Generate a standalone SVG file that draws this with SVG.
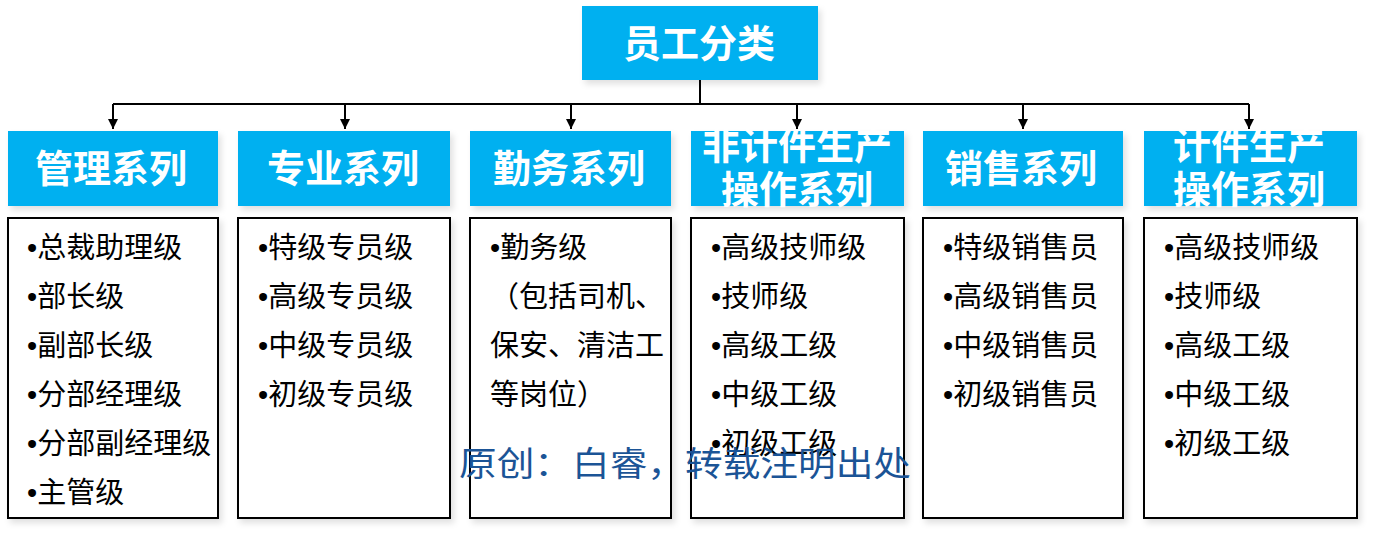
<svg xmlns="http://www.w3.org/2000/svg" width="1373" height="545" viewBox="0 0 1373 545">
<defs>
<filter id="sh" x="-10%" y="-10%" width="130%" height="130%"><feDropShadow dx="3" dy="4" stdDeviation="3" flood-color="#000" flood-opacity="0.12"/></filter>
<marker id="ar" viewBox="0 0 10 10" refX="10" refY="5" markerWidth="10" markerHeight="10" markerUnits="userSpaceOnUse" orient="auto"><path d="M0,0 L10,5 L0,10 z" fill="#000"/></marker>
</defs>
<style>
.hd{fill:#00B0F0;filter:url(#sh)}
.bx{fill:#fff;stroke:#000;stroke-width:2;filter:url(#sh)}
.ht{font-family:"Noto Sans CJK SC","Noto Sans",sans-serif;font-weight:bold;font-size:38px;fill:#fff;text-anchor:middle}
.ct{font-family:"Noto Sans CJK SC","Noto Sans",sans-serif;font-size:29px;fill:#000}
.bu{font-family:"Liberation Sans",sans-serif}
.cn{stroke:#000;stroke-width:2;fill:none}
.wm{font-family:"Noto Sans CJK SC",sans-serif;font-size:34px;fill:#1B5496}
</style>
<g id="root"><rect class="hd" x="582" y="6" width="236" height="74"/><text class="ht" x="699" y="57">员工分类</text></g>
<g id="connectors">
<path class="cn" d="M700,80 V104 M113,104 H1249"/>
<path class="cn" d="M113,104 V129" marker-end="url(#ar)"/>
<path class="cn" d="M345,104 V129" marker-end="url(#ar)"/>
<path class="cn" d="M571,104 V129" marker-end="url(#ar)"/>
<path class="cn" d="M797,104 V129" marker-end="url(#ar)"/>
<path class="cn" d="M1023,104 V129" marker-end="url(#ar)"/>
<path class="cn" d="M1249,104 V129" marker-end="url(#ar)"/>
</g>
<g id="col1"><rect class="hd" x="8" y="131" width="210" height="75"/><text class="ht" x="111" y="182">管理系列</text>
<rect class="bx" x="8" y="218" width="210" height="300"/>
<text class="ct"><tspan x="27" y="258"><tspan class="bu">•</tspan>总裁助理级</tspan><tspan x="27" y="307"><tspan class="bu">•</tspan>部长级</tspan><tspan x="27" y="356"><tspan class="bu">•</tspan>副部长级</tspan><tspan x="27" y="405"><tspan class="bu">•</tspan>分部经理级</tspan><tspan x="27" y="454"><tspan class="bu">•</tspan>分部副经理级</tspan><tspan x="27" y="503"><tspan class="bu">•</tspan>主管级</tspan></text></g>
<g id="col2"><rect class="hd" x="238" y="131" width="212" height="75"/><text class="ht" x="343" y="182">专业系列</text>
<rect class="bx" x="238" y="218" width="212" height="300"/>
<text class="ct"><tspan x="258" y="258"><tspan class="bu">•</tspan>特级专员级</tspan><tspan x="258" y="307"><tspan class="bu">•</tspan>高级专员级</tspan><tspan x="258" y="356"><tspan class="bu">•</tspan>中级专员级</tspan><tspan x="258" y="405"><tspan class="bu">•</tspan>初级专员级</tspan></text></g>
<g id="col3"><rect class="hd" x="470" y="131" width="201" height="75"/><text class="ht" x="569" y="182">勤务系列</text>
<rect class="bx" x="470" y="218" width="201" height="300"/>
<text class="ct"><tspan x="490" y="258"><tspan class="bu">•</tspan>勤务级</tspan><tspan x="490" y="307">（包括司机、</tspan><tspan x="490" y="356">保安、清洁工</tspan><tspan x="490" y="405">等岗位）</tspan></text></g>
<g id="col4"><rect class="hd" x="691" y="131" width="213" height="75"/><text class="ht" x="797" y="159">非计件生产</text><text class="ht" x="797" y="203">操作系列</text>
<rect class="bx" x="691" y="218" width="213" height="300"/>
<text class="ct"><tspan x="711" y="258"><tspan class="bu">•</tspan>高级技师级</tspan><tspan x="711" y="307"><tspan class="bu">•</tspan>技师级</tspan><tspan x="711" y="356"><tspan class="bu">•</tspan>高级工级</tspan><tspan x="711" y="405"><tspan class="bu">•</tspan>中级工级</tspan><tspan x="711" y="454"><tspan class="bu">•</tspan>初级工级</tspan></text></g>
<g id="col5"><rect class="hd" x="923" y="131" width="200" height="75"/><text class="ht" x="1021" y="182">销售系列</text>
<rect class="bx" x="923" y="218" width="200" height="300"/>
<text class="ct"><tspan x="943" y="258"><tspan class="bu">•</tspan>特级销售员</tspan><tspan x="943" y="307"><tspan class="bu">•</tspan>高级销售员</tspan><tspan x="943" y="356"><tspan class="bu">•</tspan>中级销售员</tspan><tspan x="943" y="405"><tspan class="bu">•</tspan>初级销售员</tspan></text></g>
<g id="col6"><rect class="hd" x="1144" y="131" width="213" height="75"/><text class="ht" x="1249" y="159">计件生产</text><text class="ht" x="1249" y="203">操作系列</text>
<rect class="bx" x="1144" y="218" width="213" height="300"/>
<text class="ct"><tspan x="1164" y="258"><tspan class="bu">•</tspan>高级技师级</tspan><tspan x="1164" y="307"><tspan class="bu">•</tspan>技师级</tspan><tspan x="1164" y="356"><tspan class="bu">•</tspan>高级工级</tspan><tspan x="1164" y="405"><tspan class="bu">•</tspan>中级工级</tspan><tspan x="1164" y="454"><tspan class="bu">•</tspan>初级工级</tspan></text></g>
<g id="watermark"><text class="wm" x="459" y="476" textLength="452" lengthAdjust="spacingAndGlyphs">原创：白睿，转载注明出处</text></g>
</svg>
